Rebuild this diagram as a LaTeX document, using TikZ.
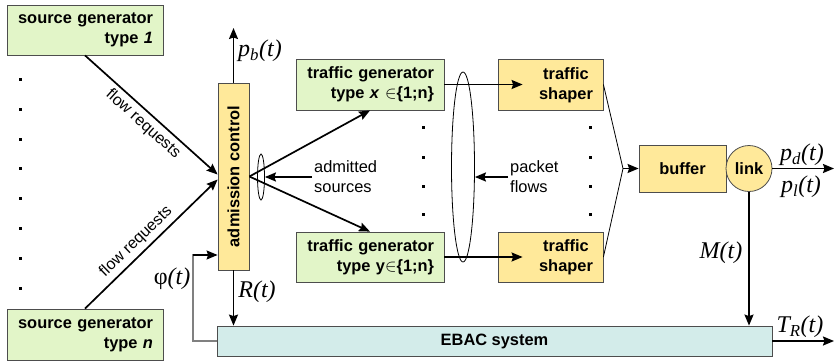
\documentclass[tikz,border=0pt]{standalone}
\usepackage{fontspec}
\setmainfont{Liberation Sans}
\newfontfamily\tms{Liberation Serif}
\usetikzlibrary{arrows.meta,shapes.geometric,calc}
\definecolor{gfill}{HTML}{E2F5C8}
\definecolor{yfill}{HTML}{FFE99A}
\definecolor{cfill}{HTML}{D3ECEA}
\definecolor{bordc}{HTML}{4D4D4D}
\newcommand\fBold{\fontsize{16.4}{20}\selectfont\bfseries}
\newcommand\fReg{\fontsize{16.4}{20}\selectfont}
\newcommand\fSmall{\fontsize{16}{18}\selectfont}
\newcommand\fMath{\fontsize{24}{26}\selectfont\tms\itshape}
\begin{document}
\begin{tikzpicture}[x=1pt,y=-1pt,
  bx/.style={draw=bordc, line width=0.8pt, inner sep=0pt},
  gbox/.style={bx, fill=gfill, font=\fBold, align=right, inner xsep=10pt, inner ysep=0pt},
  ybox/.style={bx, fill=yfill},
  arr/.style={line width=1.7pt, -{Stealth[length=11pt,width=9pt,inset=1.5pt]}},
  thinline/.style={line width=0.8pt},
  lbl/.style={font=\fBold, inner sep=0pt},
  rlbl/.style={font=\fReg, inner sep=0pt},
  mlbl/.style={inner sep=0pt, font=\fMath},
  ell/.style={ellipse, draw, line width=0.8pt, inner sep=0pt}
]
\useasboundingbox (0,0) rectangle (835,362);

% boxes
\node[gbox, text width=136pt, minimum height=50pt] (src1) at (85,30) {source generator\\type \textit{1}};
\node[gbox, text width=136pt, minimum height=51pt] (srcn) at (85,334.5) {source generator\\type \textit{n}};
\node[ybox, minimum width=31pt, minimum height=187pt] (adm) at (233.5,176.5) {};
\node[lbl, rotate=90] (admt) at (adm.center) {admission control};
\node[gbox, text width=128pt, minimum height=51pt] (tgx) at (370,84.5) {traffic generator\\type \textit{x} $\in$\{1;n\}};
\node[gbox, text width=128pt, minimum height=50pt] (tgy) at (370,257) {traffic generator\\type y$\in$\{1;n\}};
\node[ybox, minimum width=105pt, minimum height=51pt] (tsx) at (550.5,84.5) {};
\node[lbl, align=center] (tsxt) at (566,85) {traffic\\shaper};
\node[ybox, minimum width=105pt, minimum height=50pt] (tsy) at (550.5,257) {};
\node[lbl, align=center] (tsyt) at (566,257) {traffic\\shaper};
\node[ybox, minimum width=87pt, minimum height=47pt, font=\fBold] (buf) at (682.5,168.5) {buffer};
\node[bx, circle, fill=yfill, minimum size=46pt, font=\fBold] (link) at (749,168.5) {link};
\node[bx, fill=cfill, minimum width=555pt, minimum height=30pt, font=\fBold] (ebac) at (494.5,341) {EBAC system};

% ellipses
\node[ell, minimum width=7pt, minimum height=46pt] (e1) at (261,177) {};
\node[ell, minimum width=23pt, minimum height=190pt] (e2) at (463,167) {};

% dots
\foreach \yy in {79,109,139,168,198,228,258,288}
  \fill (18.5,\yy-1.5) rectangle (21.5,\yy+1.5);
\foreach \yy in {127,157,186,214}{
  \fill (421.5,\yy-1.5) rectangle (424.5,\yy+1.5);
  \fill (588.5,\yy-1.5) rectangle (591.5,\yy+1.5);
}

% texts
\node[rlbl, align=left, anchor=west] (adms) at (314,177) {admitted\\sources};
\node[rlbl, align=left, anchor=west] (pkt) at (510,177) {packet\\flows};

% connectors
\draw[arr] (src1.south) -- ([yshift=2pt]adm.west)
  node[midway, sloped, below=4pt, font=\fSmall, inner sep=0pt]{flow requests};
\draw[arr] (srcn.north) -- ([yshift=-3pt]adm.west)
  node[pos=0.45, sloped, above=4pt, font=\fSmall, inner sep=0pt]{flow requests};

\coordinate (pbt) at (233.5,28);
\draw[arr] (adm.north) -- (pbt);
\node[mlbl, anchor=west] (pbl) at (238,51) {p\textsubscript{b}(t)};

\draw[arr] (adm.east) -- (tgx.south);
\draw[arr] (adm.east) -- (tgy.north);
\draw[arr] ([xshift=-2pt]adms.west) -- (e1.east);
\draw[arr] ([xshift=-2pt]pkt.west) -- (pkt.west -| e2.east);

\draw[arr] (tgx.east) -- ([xshift=25pt]tsx.west);
\draw[arr] (tgy.east) -- ([xshift=25pt]tsy.west);

\coordinate (J) at (623,168.5);
\draw[thinline] (tsx.east) -- (J) -- (tsy.east);
\draw[arr] (J) -- (buf.west);

\coordinate (pout) at (834,168.5);
\draw[arr] (link.east) -- (pout);
\node[mlbl] (pdl) at (802,155) {p\textsubscript{d}(t)};
\node[mlbl] (pll) at (801,187) {p\textsubscript{l}(t)};

\draw[arr] (link.south) -- (link.south |- ebac.north);
\node[mlbl] (ml) at (721,253) {M(t)};

\coordinate (tout) at (834,341);
\draw[arr] (ebac.east) -- (tout);
\node[mlbl] (trl) at (800,327) {T\textsubscript{R}(t)};

\draw[arr] (adm.south) -- (adm.south |- ebac.north);
\node[mlbl] (rl) at (257,292) {R(t)};

\coordinate (fb1) at (193,341);
\coordinate (fb2) at (193,255);
\draw[line width=1.2pt, draw=gray] (ebac.west) -- (fb1) -- (fb2) -- ++(8,0);
\draw[arr, line width=1.3pt] (fb2) -- (fb2 -| adm.west);
\node[mlbl] (phl) at (172,279) {{\upshape φ}(t)};
\end{tikzpicture}
\end{document}
